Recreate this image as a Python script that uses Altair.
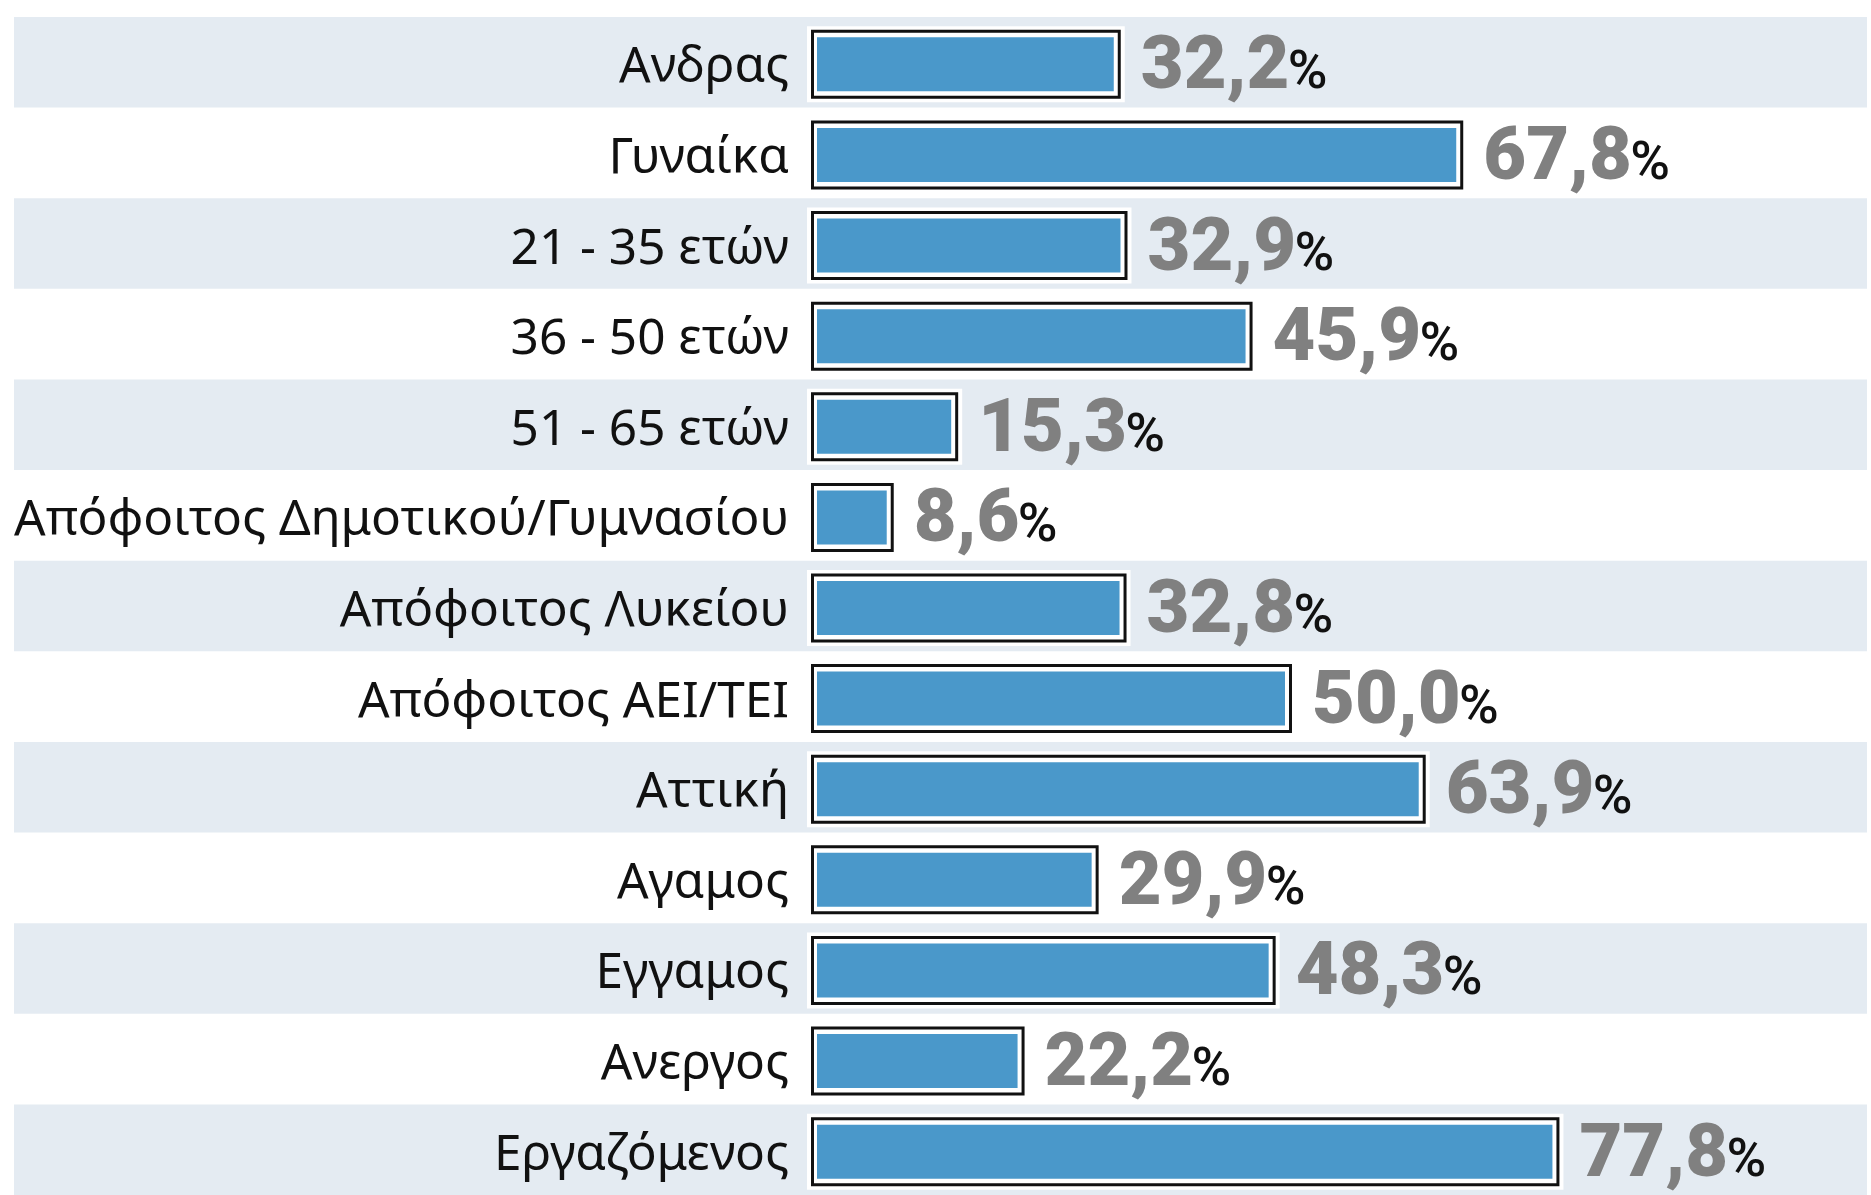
import altair as alt
import pandas as pd

categories = ["Ανδρας", "Γυναίκα", "21 - 35 ετών", "36 - 50 ετών", "51 - 65 ετών",
              "Απόφοιτος Δημοτικού/Γυμνασίου", "Απόφοιτος Λυκείου", "Απόφοιτος ΑΕΙ/ΤΕΙ",
              "Αττική", "Αγαμος", "Εγγαμος", "Ανεργος", "Εργαζόμενος"]
values = [32.2, 67.8, 32.9, 45.9, 15.3, 8.6, 32.8, 50.0, 63.9, 29.9, 48.3, 22.2, 77.8]
value_labels = ["32,2", "67,8", "32,9", "45,9", "15,3", "8,6", "32,8", "50,0",
                "63,9", "29,9", "48,3", "22,2", "77,8"]

df = pd.DataFrame({"cat": categories, "v": values, "lab": value_labels})
df["idx"] = range(len(df))
df["start"] = 0.0

W, H = 1853, 1178
PX_PER_UNIT = 9.62
X0 = 797
DW, CW = 43.0, 17.0   # digit / comma advance of the number font
GAP = 20

xs = alt.Scale(domain=[0, 100], range=[X0, X0 + 100 * PX_PER_UNIT], nice=False, zero=False)
ys = alt.Scale(domain=categories, paddingInner=0, paddingOuter=0)
Y = alt.Y("cat:N", sort=categories, scale=ys, axis=None)

base = alt.Chart(df)

bands = base.transform_filter("datum.idx % 2 == 0").mark_rect(
    color="#e4ebf2", y2Offset=2).encode(
    y=Y, x=alt.value(0), x2=alt.value(W)
)

halo = base.mark_bar(color="#ffffff", height=76, yOffset=2, xOffset=-4, x2Offset=4).encode(
    y=Y, x=alt.X("start:Q", scale=xs, axis=None), x2="v:Q"
)

box = base.mark_bar(fill="#ffffff", stroke="#111111", strokeWidth=3, height=66, yOffset=2,
                    xOffset=1.5, x2Offset=-1.5).encode(
    y=Y, x=alt.X("start:Q", scale=xs, axis=None), x2="v:Q"
)

fill = base.mark_bar(color="#4a98ca", height=54, yOffset=2, xOffset=6, x2Offset=-7).encode(
    y=Y, x=alt.X("start:Q", scale=xs, axis=None), x2="v:Q"
)

cat_text = base.mark_text(align="right", baseline="alphabetic", font="Noto Sans", fontSize=49.5,
                          color="#111111", dy=20).encode(
    y=Y, x=alt.value(775), text="cat:N"
)

num_text = base.mark_text(align="left", baseline="alphabetic", font="Roboto", fontWeight=900,
                          fontSize=74, color="#808080", dx=GAP, dy=26).encode(
    y=Y, x=alt.X("v:Q", scale=xs, axis=None), text="lab:N"
)

pct_text = base.transform_calculate(
    px=f"datum.v + ({GAP} + 1 + (length(datum.lab) - 1) * {DW} + {CW}) / {PX_PER_UNIT}",
    pct="'%'"
).mark_text(align="left", baseline="alphabetic", font="Roboto", fontWeight=500, fontSize=54,
            color="#111111", dy=26).encode(
    y=Y, x=alt.X("px:Q", scale=xs, axis=None), text="pct:N"
)

chart = alt.layer(bands, halo, box, fill, cat_text, num_text, pct_text).properties(
    width=W, height=H,
    padding={"left": 14, "top": 17, "right": 4, "bottom": 0},
    autosize=alt.AutoSizeParams(type="none"),
    background="#ffffff",
).configure_view(stroke=None)

chart.save("out.html", embed_options={"renderer": "svg", "actions": False})
